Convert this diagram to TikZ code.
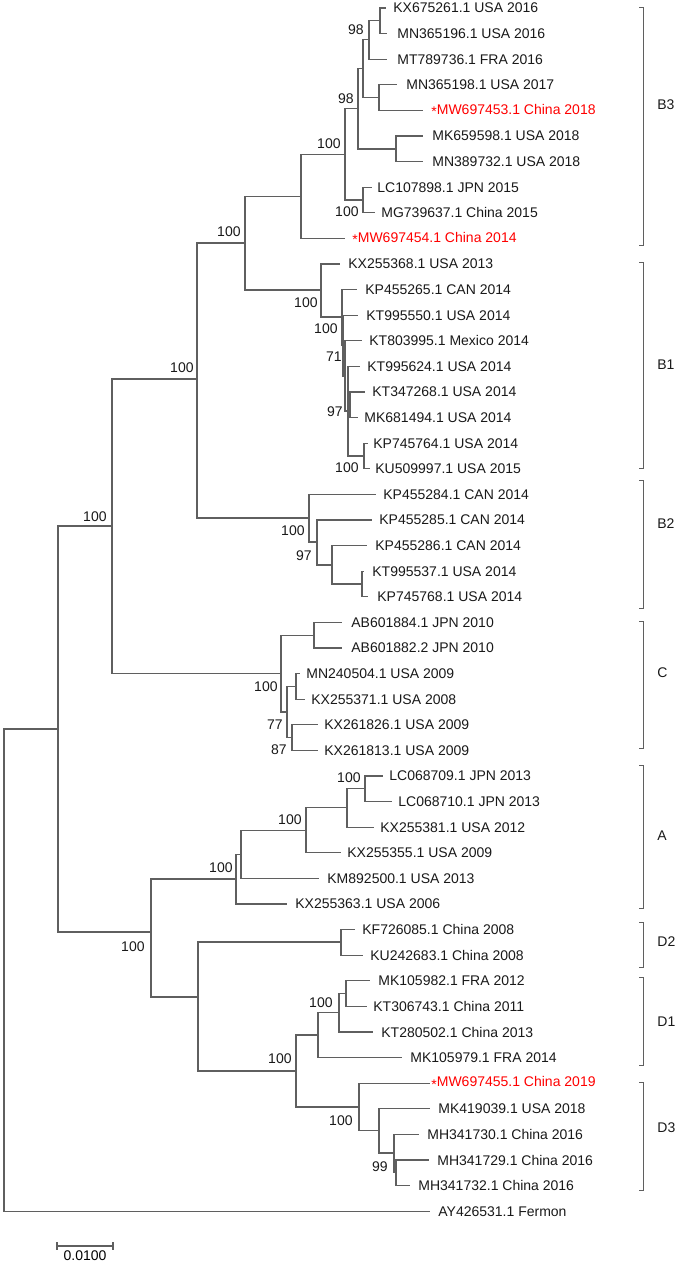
\documentclass[tikz,border=0pt]{standalone}
\usepackage{fontspec}
\setmainfont{Liberation Sans}
\definecolor{treegray}{RGB}{95,95,95}
\definecolor{newred}{RGB}{255,0,0}
\newcommand{\newmark}{\raisebox{-0.35ex}{*}}
\tikzset{
  branch/.style={draw=treegray, line width=0.65pt},
  leaf/.style={anchor=west, inner sep=0pt, font=\fontsize{7}{8}\selectfont, text=black!90},
  boot/.style={anchor=east, inner sep=0pt, font=\fontsize{7}{8}\selectfont, text=black!90},
  clade/.style={draw=treegray, line width=0.5pt},
}
\begin{document}
\begin{tikzpicture}[x=0.5pt, y=-0.5pt]
\useasboundingbox (0,0) rectangle (685,1264);
\foreach \n/\xe/\xt/\txt in {1/386/393/KX675261.1 USA 2016, 2/387/397/MN365196.1 USA 2016,
  3/387/397/MT789736.1 FRA 2016, 4/397/406/MN365198.1 USA 2017, 6/423/432/MK659598.1 USA 2018,
  7/423/432/MN389732.1 USA 2018, 8/372/377/LC107898.1 JPN 2015, 9/375/381/MG739637.1 China 2015,
  11/340/348/KX255368.1 USA 2013, 12/357/365/KP455265.1 CAN 2014, 13/358/366/KT995550.1 USA 2014,
  14/362/369/KT803995.1 Mexico 2014, 15/360/367/KT995624.1 USA 2014, 16/365/372/KT347268.1 USA 2014,
  17/358/364/MK681494.1 USA 2014, 18/368/373/KP745764.1 USA 2014, 19/370/375/KU509997.1 USA 2015,
  20/376/383/KP455284.1 CAN 2014, 21/372/379/KP455285.1 CAN 2014, 22/367/375/KP455286.1 CAN 2014,
  23/364/372/KT995537.1 USA 2014, 24/368/377/KP745768.1 USA 2014, 25/342/351/AB601884.1 JPN 2010,
  26/342/351/AB601882.2 JPN 2010, 27/300/306/MN240504.1 USA 2009, 28/305/311/KX255371.1 USA 2008,
  29/318/324/KX261826.1 USA 2009, 30/318/324/KX261813.1 USA 2009, 31/383/389/LC068709.1 JPN 2013,
  32/392/398/LC068710.1 JPN 2013, 33/374/380/KX255381.1 USA 2012, 34/341/347/KX255355.1 USA 2009,
  35/319/327/KM892500.1 USA 2013, 36/287/295/KX255363.1 USA 2006, 37/355/362/KF726085.1 China 2008,
  38/363/370/KU242683.1 China 2008, 39/370/378/MK105982.1 FRA 2012, 40/367/373/KT306743.1 China 2011,
  41/373/381/KT280502.1 China 2013, 42/402/410/MK105979.1 FRA 2014, 44/430/438/MK419039.1 USA 2018,
  45/419/427/MH341730.1 China 2016, 46/429/437/MH341729.1 China 2016, 47/410/418/MH341732.1 China 2016,
  48/430/438/AY426531.1 Fermon}{
  \pgfmathsetmacro\ty{8+(\n-1)*25.6}
  \coordinate (t\n) at (\xe,\ty);
  \node[leaf] (l\n) at (\xt,\ty) {\txt};
}
\foreach \n/\xe/\xt/\txt in {5/423/431/MW697453.1 China 2018, 10/345/352/MW697454.1 China 2014,
  43/430/431/MW697455.1 China 2019}{
  \pgfmathsetmacro\ty{8+(\n-1)*25.6}
  \coordinate (t\n) at (\xe,\ty);
  \node[leaf, text=newred] (l\n) at (\xt,\ty) {\newmark\txt};
}
\coordinate (n12) at (380,20.5);
\coordinate (n123) at (369,39.8);
\coordinate (n45) at (379,97.5);
\coordinate (n1to5) at (363,68.6);
\coordinate (n67) at (396,149);
\coordinate (n1to7) at (358,108.8);
\coordinate (n89) at (363,200);
\coordinate (n1to9) at (345,154.4);
\coordinate (n1to10) at (301,196.7);
\coordinate (nB1B3) at (245,243);
\coordinate (nB1a) at (321,290);
\coordinate (nB1b) at (342,317);
\coordinate (nB1c) at (343,345.5);
\coordinate (nB1d) at (345,376);
\coordinate (nB1e) at (348,411);
\coordinate (nB1f) at (350,405);
\coordinate (nB1g) at (364,456);
\coordinate (nB2) at (309,518);
\coordinate (nB2b) at (317,542);
\coordinate (nB2c) at (332,565);
\coordinate (nB2d) at (362,584);
\coordinate (nB) at (197,379);
\coordinate (nC) at (281,673.7);
\coordinate (nCa) at (314,635.5);
\coordinate (nCb) at (287,712);
\coordinate (nCc) at (296,686.5);
\coordinate (nCd) at (292,737.5);
\coordinate (nBC) at (112,526);
\coordinate (nA1) at (365,788.5);
\coordinate (nA2) at (347,807.8);
\coordinate (nA3) at (306,830.4);
\coordinate (nA4) at (241,854.2);
\coordinate (nA) at (236,879);
\coordinate (nD2) at (341,942);
\coordinate (nD1a) at (346,993.5);
\coordinate (nD1b) at (339,1012.8);
\coordinate (nD1) at (318,1035);
\coordinate (nD3) at (359,1107);
\coordinate (nD3a) at (379,1130.6);
\coordinate (nD3b) at (394,1153);
\coordinate (nD3c) at (396,1172.5);
\coordinate (nD1D3) at (296,1071);
\coordinate (nD) at (198,997);
\coordinate (nAD) at (151,932);
\coordinate (nBig) at (58,729);
\coordinate (root) at (4,970);
\foreach \p/\c in {n12/t1, n12/t2, n123/n12, n123/t3, n45/t4, n45/t5, n1to5/n123, n1to5/n45,
  n67/t6, n67/t7, n1to7/n1to5, n1to7/n67, n89/t8, n89/t9, n1to9/n1to7, n1to9/n89,
  n1to10/n1to9, n1to10/t10, nB1B3/n1to10, nB1B3/nB1a,
  nB1a/t11, nB1a/nB1b, nB1b/t12, nB1b/nB1c, nB1c/t13, nB1c/nB1d, nB1d/t14, nB1d/nB1e,
  nB1e/t15, nB1e/nB1f, nB1e/nB1g, nB1f/t16, nB1f/t17, nB1g/t18, nB1g/t19,
  nB2/t20, nB2/nB2b, nB2b/t21, nB2b/nB2c, nB2c/t22, nB2c/nB2d, nB2d/t23, nB2d/t24,
  nB/nB1B3, nB/nB2, nC/nCa, nC/nCb, nCa/t25, nCa/t26, nCb/nCc, nCb/nCd, nCc/t27, nCc/t28,
  nCd/t29, nCd/t30, nBC/nB, nBC/nC,
  nA1/t31, nA1/t32, nA2/nA1, nA2/t33, nA3/nA2, nA3/t34, nA4/nA3, nA4/t35, nA/nA4, nA/t36,
  nD2/t37, nD2/t38, nD1a/t39, nD1a/t40, nD1b/nD1a, nD1b/t41, nD1/nD1b, nD1/t42,
  nD3/t43, nD3/nD3a, nD3a/t44, nD3a/nD3b, nD3b/t45, nD3b/nD3c, nD3c/t46, nD3c/t47,
  nD1D3/nD1, nD1D3/nD3, nD/nD2, nD/nD1D3, nAD/nA, nAD/nD, nBig/nBC, nBig/nAD,
  root/nBig, root/t48}
  \draw[branch] (\p) |- (\c);
\foreach \x/\y/\v [count=\i] in {364/30/98, 354/99/98, 341/144/100, 359/212/100, 241/232/100,
  318/303/100, 338/329/100, 342/357/71, 343/412/97, 359/468/100, 305/531/100, 312/556/97,
  194/368/100, 107/517/100, 278/687/100, 283/725/77, 287/750/87, 361/778/100, 302/820/100,
  233/868/100, 333/1003/100, 292/1059/100, 353/1121/100, 388/1167/99, 145/947/100}
  \node[boot] (b\i) at (\x,\y) {\v};
\foreach \cl/\top/\bot/\ly in {B3/7/245/105, B1/262/468/365, B2/480/608/524, C/621/748/673,
  A/765/908/836, D2/922/967/942, D1/977/1065/1022, D3/1082/1190/1128}{
  \draw[clade] (639,\top) -- (643,\top) -- (643,\bot) -- (639,\bot);
  \node[leaf] (c\cl) at (657,\ly) {\cl};
}
\coordinate (sbl) at (57,1246);
\coordinate (sbr) at (113,1246);
\draw[branch] (sbl) -- (sbr);
\draw[branch] ([yshift=2pt]sbl) -- ([yshift=-2pt]sbl);
\draw[branch] ([yshift=2pt]sbr) -- ([yshift=-2pt]sbr);
\node[inner sep=0pt, font=\fontsize{7}{8}\selectfont] (sbt) at (85,1256) {0.0100};
\end{tikzpicture}
\end{document}
